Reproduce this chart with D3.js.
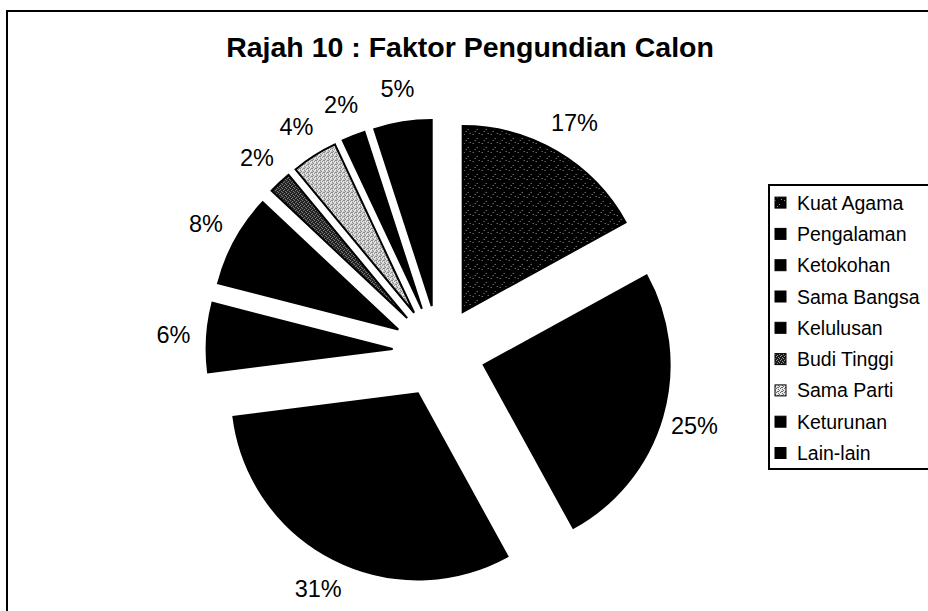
<!DOCTYPE html>
<html>
<head>
<meta charset="utf-8">
<script src="https://cdn.jsdelivr.net/npm/d3@7"></script>
<style>
  html, body { margin: 0; padding: 0; background: #fff; }
  svg { display: block; }
  text { font-family: "Liberation Sans", Arial, Helvetica, sans-serif; fill: #000; }
</style>
</head>
<body>
<svg id="chart" width="928" height="611"></svg>
<script>
// ---- data ----
const categories = ["Kuat Agama", "Pengalaman", "Ketokohan", "Sama Bangsa", "Kelulusan",
                    "Budi Tinggi", "Sama Parti", "Keturunan", "Lain-lain"];
const values = [17, 25, 31, 6, 8, 2, 4, 2, 5];
const labelTexts = ["17%", "25%", "31%", "6%", "8%", "2%", "4%", "2%", "5%"];
const titleText = "Rajah 10 : Faktor Pengundian Calon";

// ---- styles ----
const fillKeys = ["kuat", "black", "black", "black", "black", "budi", "parti", "black", "black"];

const svg = d3.select("#chart");
const defs = svg.append("defs");

// deterministic stipple tiles
function makePattern(id, size, bg, fg, pixels) {
  const p = defs.append("pattern").attr("id", id).attr("patternUnits", "userSpaceOnUse")
    .attr("width", size).attr("height", size);
  p.append("rect").attr("width", size).attr("height", size).attr("fill", bg);
  pixels.forEach(([x, y]) => p.append("rect").attr("x", x).attr("y", y)
    .attr("width", 1).attr("height", 1).attr("fill", fg));
}
makePattern("pKuat", 9, "#000", "#999", [[1, 2], [5, 6], [7, 1], [3, 8]]);
makePattern("pBudi", 4, "#1a1a1a", "#999", [[0, 0], [2, 1], [1, 3], [3, 2]]);
makePattern("pParti", 4, "#e8e8e8", "#666", [[0, 0], [2, 1], [1, 3], [3, 2], [2, 3]]);
const fillFor = { kuat: "url(#pKuat)", budi: "url(#pBudi)", parti: "url(#pParti)", black: "#000" };

// outer frame
svg.append("rect").attr("x", 7).attr("y", 11).attr("width", 960).attr("height", 640)
  .attr("fill", "none").attr("stroke", "#000").attr("stroke-width", 2);

// title
svg.append("text").attr("x", 470).attr("y", 57).attr("text-anchor", "middle")
  .style("font-size", "28.5px").style("font-weight", "bold").text(titleText);

// pie
const cx = 439, cy = 352, R = 186, explode = 46.5, labelR = 266;
const pie = d3.pie().sort(null).value(d => d).startAngle(0).endAngle(2 * Math.PI);
const arcs = pie(values);
const arc = d3.arc().innerRadius(0).outerRadius(R);

const g = svg.append("g").attr("transform", `translate(${cx},${cy})`);
arcs.forEach((a, i) => {
  const mid = (a.startAngle + a.endAngle) / 2;
  const dx = explode * Math.sin(mid), dy = -explode * Math.cos(mid);
  g.append("path").attr("d", arc(a))
    .attr("transform", `translate(${dx},${dy})`)
    .attr("fill", fillFor[fillKeys[i]])
    .attr("stroke", "#000").attr("stroke-width", 2).attr("stroke-linejoin", "miter");
  g.append("text")
    .attr("x", labelR * Math.sin(mid)).attr("y", -labelR * Math.cos(mid))
    .attr("text-anchor", "middle").attr("dominant-baseline", "central")
    .style("font-size", "23.5px").text(labelTexts[i]);
});

// legend
const lx = 769, ly = 185, lh = 284, step = 31.3, firstY = 202.6;
svg.append("rect").attr("x", lx).attr("y", ly).attr("width", 200).attr("height", lh)
  .attr("fill", "#fff").attr("stroke", "#000").attr("stroke-width", 2);
const yL = d3.scalePoint().domain(categories).range([firstY, firstY + step * (categories.length - 1)]);
categories.forEach((c, i) => {
  const y = yL(c);
  svg.append("rect").attr("x", 775).attr("y", y - 5.5).attr("width", 11).attr("height", 11)
    .attr("fill", fillFor[fillKeys[i]]).attr("stroke", "#000").attr("stroke-width", 1);
  svg.append("text").attr("x", 797).attr("y", y).attr("dominant-baseline", "central")
    .style("font-size", "19.5px").text(c);
});
</script>
</body>
</html>
